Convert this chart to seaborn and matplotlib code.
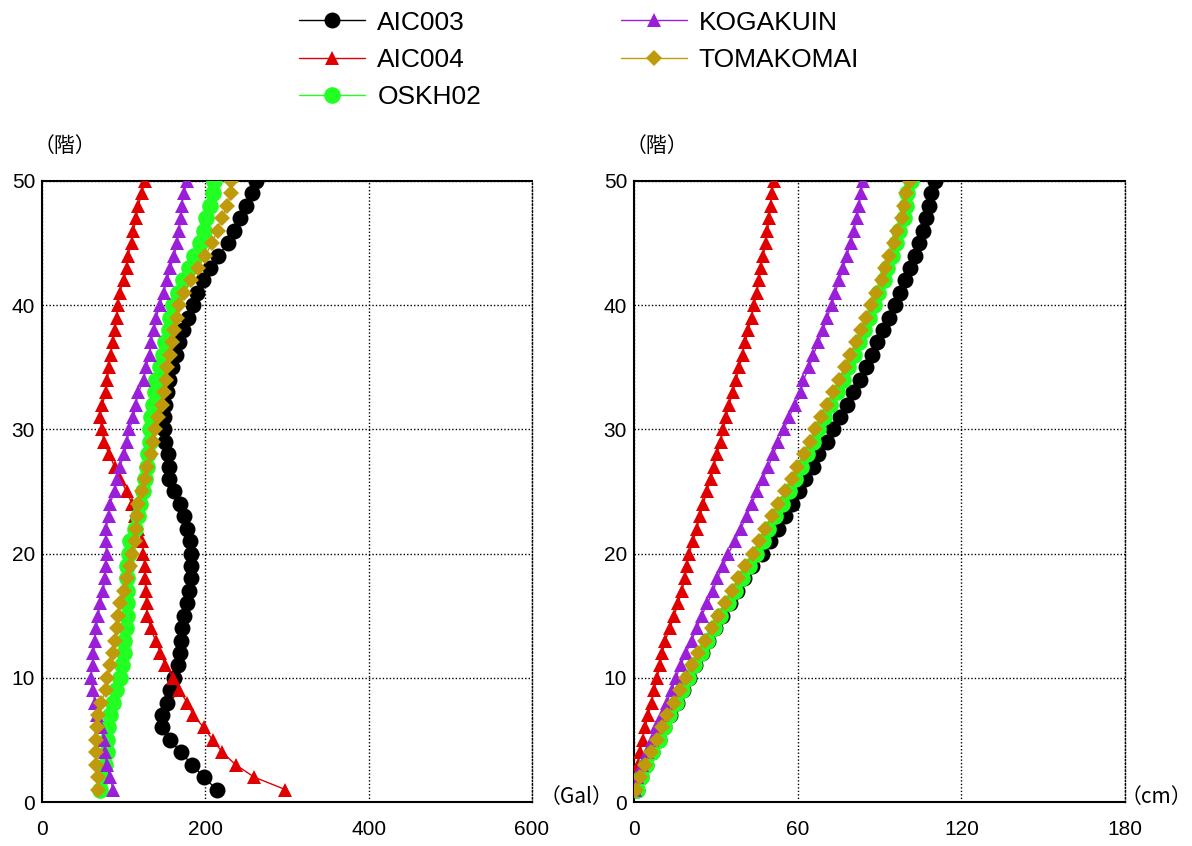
import matplotlib
matplotlib.use("Agg")
import matplotlib.pyplot as plt
from matplotlib.lines import Line2D
from matplotlib.ticker import MultipleLocator
import seaborn as sns

sns.set_theme(style="white")
plt.rcParams["font.family"] = ["Liberation Sans", "Noto Sans CJK JP", "DejaVu Sans"]
plt.rcParams["text.color"] = "black"

floors = list(range(1, 51))
stations = ["AIC003", "AIC004", "OSKH02", "KOGAKUIN", "TOMAKOMAI"]

# peak floor acceleration (Gal)
acc_aic003 = [214, 198, 184, 170, 157, 147, 147, 153, 157, 162,
              167, 169, 170, 172, 174, 178, 180, 183, 183, 183,
              181, 178, 174, 169, 162, 156, 155, 154, 151, 149,
              149, 151, 153, 156, 159, 164, 168, 173, 179, 185,
              190, 197, 206, 216, 228, 235, 243, 250, 257, 262]
acc_aic004 = [298, 260, 237, 221, 209, 198, 185, 178, 168, 161,
              151, 145, 139, 133, 129, 128, 127, 126, 126, 124,
              122, 118, 114, 110, 104, 95, 89, 82, 76, 73,
              71, 74, 78, 80, 82, 84, 87, 89, 92, 93,
              95, 100, 104, 105, 110, 112, 115, 118, 122, 126]
acc_oskh02 = [71, 75, 77, 79, 80, 81, 83, 87, 91, 95,
              98, 100, 101, 103, 104, 104, 104, 104, 104, 106,
              108, 114, 117, 120, 124, 126, 128, 130, 132, 132,
              134, 136, 138, 140, 144, 148, 151, 155, 157, 161,
              167, 173, 180, 186, 193, 198, 201, 206, 209, 210]
acc_kogakuin = [87, 83, 79, 77, 76, 72, 67, 65, 62, 60,
                62, 63, 65, 66, 69, 71, 75, 77, 78, 79,
                78, 78, 82, 83, 89, 92, 95, 101, 104, 107,
                112, 115, 118, 125, 127, 132, 133, 137, 140, 144,
                149, 153, 157, 162, 165, 168, 170, 171, 174, 177]
acc_tomakomai = [69, 68, 66, 66, 66, 67, 68, 72, 78, 80,
                 83, 87, 89, 92, 93, 96, 100, 104, 108, 110,
                 114, 115, 116, 118, 122, 126, 129, 134, 136, 138,
                 142, 147, 149, 152, 153, 157, 159, 162, 165, 168,
                 174, 183, 191, 200, 208, 215, 220, 227, 231, 232]

# peak floor displacement (cm)
dis_aic003 = [1.0, 2.6, 4.5, 6.7, 9.3, 11.1, 13.3, 15.7, 18.0, 20.2,
              22.4, 24.8, 27.2, 29.8, 32.2, 35.1, 37.7, 40.2, 43.2, 46.8,
              49.8, 52.9, 55.4, 57.8, 60.5, 62.7, 65.5, 67.6, 70.6, 73.1,
              75.5, 78.0, 80.4, 82.8, 85.0, 87.1, 89.2, 91.4, 93.6, 95.7,
              97.5, 99.3, 101.0, 103.0, 104.3, 106.0, 107.0, 108.0, 109.0, 110.3]
dis_aic004 = [0.4, 0.7, 1.6, 2.2, 3.2, 4.0, 5.2, 6.5, 7.3, 8.5,
              9.5, 10.4, 11.4, 13.2, 14.7, 16.2, 17.5, 18.7, 19.3, 20.3,
              21.5, 23.0, 24.2, 25.4, 26.6, 28.1, 29.3, 30.3, 31.8, 32.7,
              33.7, 34.9, 36.2, 37.4, 38.6, 39.8, 40.7, 41.9, 43.1, 44.0,
              45.0, 45.9, 46.4, 47.4, 48.3, 48.9, 49.6, 50.1, 50.5, 51.3]
dis_oskh02 = [1.0, 2.5, 4.3, 6.5, 9.1, 10.9, 13.0, 15.4, 17.7, 19.9,
              22.0, 24.4, 26.8, 29.3, 31.7, 34.6, 37.1, 39.5, 42.0, 44.9,
              47.3, 49.3, 51.8, 54.2, 56.7, 59.1, 61.1, 63.5, 65.8, 67.6,
              69.7, 71.9, 74.4, 76.6, 78.6, 80.6, 82.6, 84.4, 86.3, 88.1,
              89.6, 91.6, 92.8, 94.4, 96.1, 97.1, 98.8, 99.7, 100.2, 101.5]
dis_kogakuin = [0.4, 1.2, 2.8, 4.6, 6.5, 8.1, 10.1, 12.0, 13.8, 15.4,
                17.1, 19.1, 21.1, 23.0, 24.8, 26.9, 29.1, 30.5, 32.7, 34.6,
                37.0, 39.1, 41.3, 43.1, 45.2, 47.2, 49.2, 51.1, 52.9, 55.0,
                56.9, 59.0, 61.1, 62.1, 64.3, 65.7, 67.6, 69.3, 70.8, 72.5,
                73.7, 75.3, 76.7, 78.0, 79.4, 80.6, 81.6, 82.6, 83.1, 84.1]
dis_tomakomai = [0.7, 2.2, 4.0, 6.1, 8.3, 10.1, 12.2, 14.6, 16.9, 19.1,
                 21.1, 23.6, 26.0, 28.5, 30.9, 33.4, 35.8, 38.2, 40.7, 43.5,
                 46.0, 48.0, 50.5, 52.9, 55.4, 57.8, 59.8, 62.2, 64.5, 66.3,
                 68.4, 70.6, 73.1, 75.3, 77.3, 79.3, 81.4, 83.2, 85.2, 87.0,
                 88.7, 90.8, 92.0, 93.6, 95.3, 96.3, 98.1, 99.0, 99.7, 101.2]

acc = [acc_aic003, acc_aic004, acc_oskh02, acc_kogakuin, acc_tomakomai]
dis = [dis_aic003, dis_aic004, dis_oskh02, dis_kogakuin, dis_tomakomai]

colors = ["#000000", "#E00000", "#22FF22", "#9B1FD8", "#BF9A0A"]
markers = ["o", "^", "o", "^", "D"]
msizes = [11.5, 10, 12, 9.5, 8.5]

fig = plt.figure(figsize=(11.92, 8.46), dpi=100)
ax1 = fig.add_axes([42 / 1192, 44 / 846, 490 / 1192, 621 / 846])
ax2 = fig.add_axes([634 / 1192, 44 / 846, 491 / 1192, 621 / 846])

for ax, series in ((ax1, acc), (ax2, dis)):
    for i, (vals, c, m, ms) in enumerate(zip(series, colors, markers, msizes)):
        sns.lineplot(x=vals, y=floors, ax=ax, sort=False, estimator=None,
                     color=c, marker=m, markersize=ms, markeredgewidth=0,
                     linewidth=1.0, zorder=3 + i, legend=False)

def style_axis(ax, xmax, xmajor, xminor):
    ax.set_xlim(0, xmax)
    ax.set_ylim(0, 50)
    ax.xaxis.set_major_locator(MultipleLocator(xmajor))
    ax.xaxis.set_minor_locator(MultipleLocator(xminor))
    ax.yaxis.set_major_locator(MultipleLocator(10))
    ax.yaxis.set_minor_locator(MultipleLocator(2))
    ax.grid(True, which="major", color="black", linestyle=(0, (1, 1.5)), linewidth=1.0)
    ax.tick_params(which="both", direction="in", color="black", width=1,
                   labelsize=15, labelcolor="black")
    ax.tick_params(which="major", length=5)
    ax.tick_params(which="minor", length=3)
    ax.tick_params(axis="x", which="major", pad=13)
    ax.tick_params(axis="y", which="major", pad=5)
    for side in ("left", "bottom", "top"):
        ax.spines[side].set_color("black")
        ax.spines[side].set_linewidth(1.5)
    ax.spines["right"].set_color("black")
    ax.spines["right"].set_linewidth(1.0)
    ax.spines["right"].set_linestyle((0, (1, 1.5)))
    ax.set_xlabel("")
    ax.set_ylabel("")
    ax.set_facecolor("white")

style_axis(ax1, 600, 200, 100)
style_axis(ax2, 180, 60, 30)

cjk = ["Noto Sans CJK JP", "DejaVu Sans"]
fig.text(34 / 1192, 1 - 146 / 846, "（階）", fontsize=15, family=cjk, ha="left", va="center")
fig.text(626 / 1192, 1 - 146 / 846, "（階）", fontsize=15, family=cjk, ha="left", va="center")
fig.text(540 / 1192, 1 - 797 / 846, "（Gal）", fontsize=15, family=cjk, ha="left", va="center")
fig.text(1192 / 1192, 1 - 797 / 846, "（cm）", fontsize=15, family=cjk, ha="right", va="center")

handles = [Line2D([0], [0], color=c, marker=m, markersize=ms, markeredgewidth=0, linewidth=1.0)
           for c, m, ms in zip(colors, markers, msizes)]
fig.legend(handles, stations, loc="upper center", bbox_to_anchor=(0.486, 1.0),
           ncol=2, frameon=False, fontsize=19, handlelength=2.5, handletextpad=0.45,
           columnspacing=5.3, labelspacing=0.5, borderaxespad=0.0)

fig.savefig("out.png", dpi=100, facecolor="white")
